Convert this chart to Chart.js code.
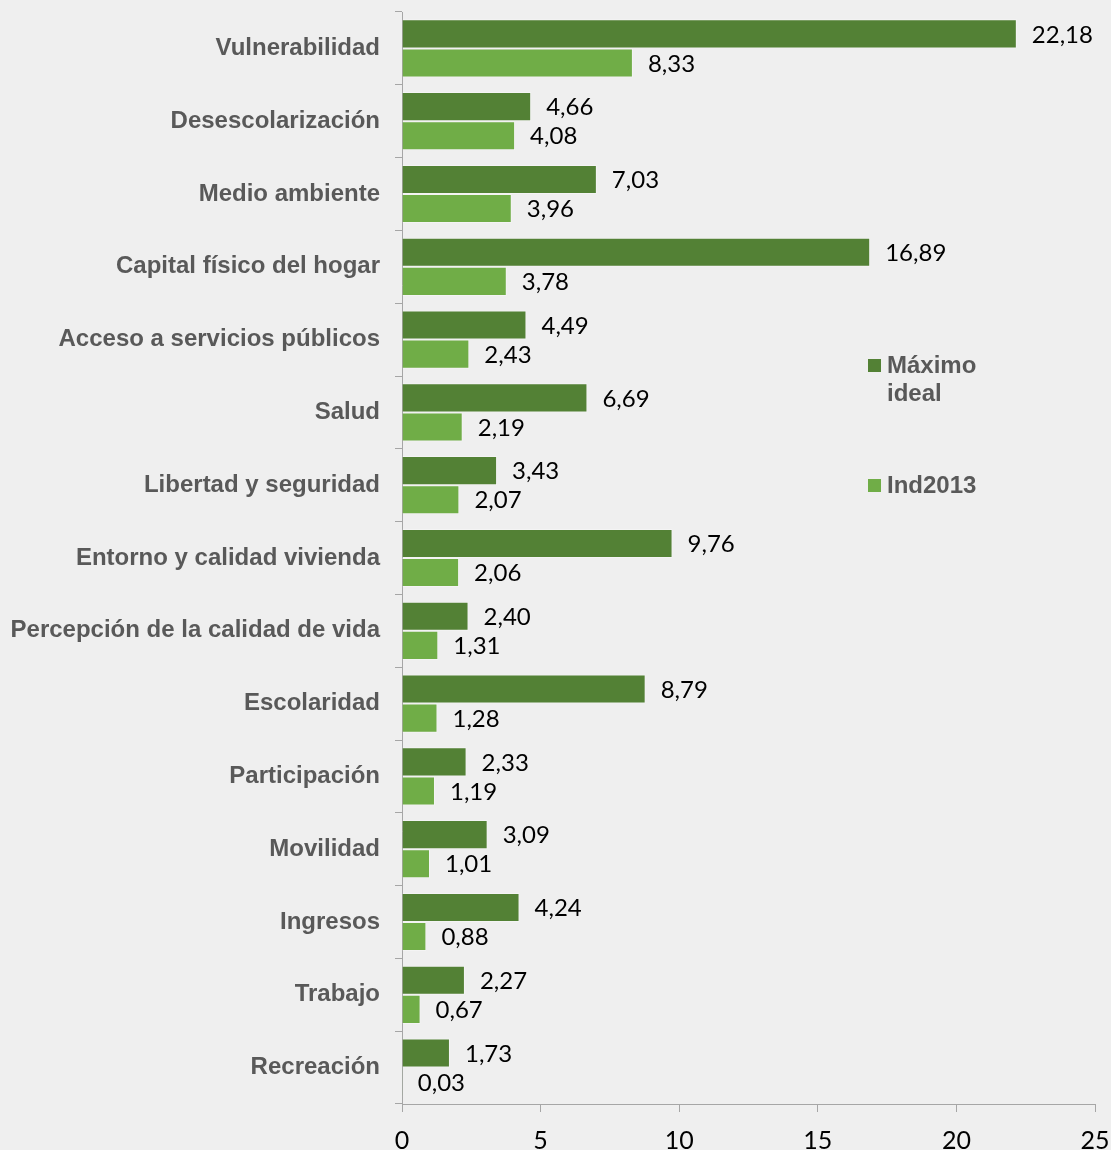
<!DOCTYPE html>
<html>
<head>
<meta charset="utf-8">
<script src="https://cdn.jsdelivr.net/npm/chart.js@4/dist/chart.umd.min.js"></script>
<style>
  html, body { margin: 0; padding: 0; background: #efefef; }
  #wrap { width: 1111px; height: 1150px; position: relative; }
</style>
</head>
<body>
<div id="wrap"><canvas id="c" width="1111" height="1150"></canvas></div>
<script>
const categories = [
  "Vulnerabilidad",
  "Desescolarización",
  "Medio ambiente",
  "Capital físico del hogar",
  "Acceso a servicios públicos",
  "Salud",
  "Libertad y seguridad",
  "Entorno y calidad vivienda",
  "Percepción de la calidad de vida",
  "Escolaridad",
  "Participación",
  "Movilidad",
  "Ingresos",
  "Trabajo",
  "Recreación"
];
const maximoIdeal = [22.18, 4.66, 7.03, 16.89, 4.49, 6.69, 3.43, 9.76, 2.40, 8.79, 2.33, 3.09, 4.24, 2.27, 1.73];
const ind2013 = [8.33, 4.08, 3.96, 3.78, 2.43, 2.19, 2.07, 2.06, 1.31, 1.28, 1.19, 1.01, 0.88, 0.67, 0.03];
const xTicks = [0, 5, 10, 15, 20, 25];
const seriesNames = ["Máximo ideal", "Ind2013"];

const DARK = "#538135";
const LIGHT = "#70ad47";
const AXIS = "#a6a6a6";

const bgPlugin = {
  id: "bg",
  beforeDraw(chart) {
    const ctx = chart.ctx;
    ctx.save();
    ctx.fillStyle = "#efefef";
    ctx.fillRect(0, 0, chart.width, chart.height);
    ctx.restore();
  }
};

const valueLabels = {
  id: "valueLabels",
  afterDatasetsDraw(chart) {
    const ctx = chart.ctx;
    ctx.save();
    ctx.font = "24px Lato";
    ctx.fillStyle = "#000";
    ctx.textBaseline = "middle";
    ctx.textAlign = "left";
    chart.data.datasets.forEach((ds, di) => {
      const meta = chart.getDatasetMeta(di);
      meta.data.forEach((bar, i) => {
        const v = ds.data[i];
        ctx.fillText(v.toFixed(2).replace(".", ","), bar.x + 15, bar.y + 1);
      });
    });
    ctx.restore();
  }
};

const legendPlugin = {
  id: "customLegend",
  afterDraw(chart) {
    const ctx = chart.ctx;
    ctx.save();
    ctx.font = "bold 24px 'Liberation Sans'";
    ctx.textBaseline = "middle";
    const items = [
      { lines: seriesNames[0].split(" "), color: chart.data.datasets[0].backgroundColor, y: 366 },
      { lines: [seriesNames[1]], color: chart.data.datasets[1].backgroundColor, y: 486 }
    ];
    items.forEach(it => {
      ctx.fillStyle = it.color;
      ctx.fillRect(868, it.y - 7, 13, 13);
      ctx.fillStyle = "#595959";
      it.lines.forEach((ln, k) => {
        ctx.fillText(ln, 887, it.y + k * 28);
      });
    });
    ctx.restore();
  }
};

new Chart(document.getElementById("c"), {
  type: "bar",
  data: {
    labels: categories,
    datasets: [
      { label: seriesNames[0], data: maximoIdeal, backgroundColor: DARK, borderColor: "rgba(255,255,255,0.35)", borderWidth: 1, categoryPercentage: 0.8, barPercentage: 1.0 },
      { label: seriesNames[1], data: ind2013, backgroundColor: LIGHT, borderColor: "rgba(255,255,255,0.35)", borderWidth: 1, categoryPercentage: 0.8, barPercentage: 1.0 }
    ]
  },
  options: {
    indexAxis: "y",
    responsive: false,
    animation: false,
    devicePixelRatio: 1,
    layout: { padding: { top: 12, right: 16, left: 0, bottom: 0 } },
    plugins: {
      legend: { display: false },
      tooltip: { enabled: false }
    },
    scales: {
      y: {
        type: "category",
        offset: true,
        grid: { offset: true, drawOnChartArea: false, drawTicks: true, tickLength: 7, color: AXIS },
        border: { color: AXIS, width: 1 },
        ticks: { font: { family: "'Liberation Sans'", size: 24, weight: "bold" }, color: "#595959", padding: 15, autoSkip: false },
        afterFit(scale) { scale.width = 402; scale.paddingTop = 0; scale.paddingBottom = 0; }
      },
      x: {
        type: "linear",
        min: 0,
        max: 25,
        afterBuildTicks(scale) { scale.ticks = xTicks.map(v => ({ value: v })); },
        grid: { drawOnChartArea: false, drawTicks: true, tickLength: 8, color: AXIS },
        border: { color: AXIS, width: 1 },
        ticks: { font: { family: "Lato", size: 25 }, color: "#000", padding: 14, maxRotation: 0 },
        afterFit(scale) { scale.height = 46; scale.paddingLeft = 0; scale.paddingRight = 0; }
      }
    }
  },
  plugins: [bgPlugin, valueLabels, legendPlugin]
});
</script>
</body>
</html>
